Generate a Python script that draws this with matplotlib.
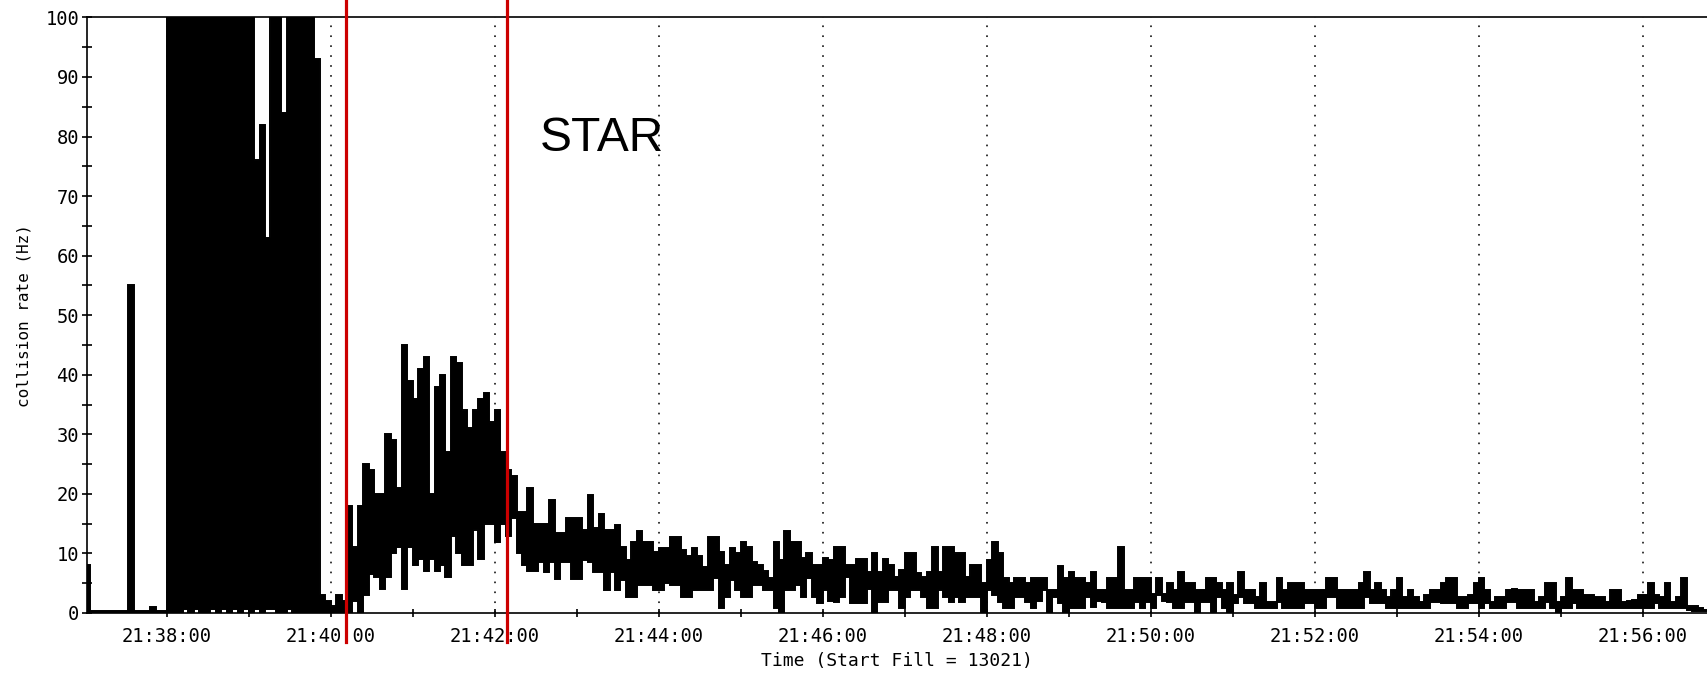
import numpy as np
import matplotlib
matplotlib.use("Agg")
import matplotlib.pyplot as plt
from matplotlib.ticker import FixedLocator, FuncFormatter, MultipleLocator

# ---------------- data ----------------
start_clock = "21:37:00"      # time of the first bin edge
bin_seconds = 4               # width of one sample bin

# upper envelope of the collision-rate trace (Hz), one row per minute
rate_hi = [
    8, .4, .4, .4, .4, .4, .4, .4, 55, .4, .4, .4, 1, .4, .4,                       # 21:37
    130, 130, 130, 130, 130, 130, 130, 130, 130, 130, 130, 130, 130, 130, 130,      # 21:38
    130, 76, 82, 63, 130, 130, 84, 130, 130, 130, 130, 130, 93, 3, 2,               # 21:39
    1.1, 3, 2, 18, 11, 18, 25, 24, 20, 20, 30, 29, 21, 45, 39,                      # 21:40
    36, 41, 43, 20, 38, 40, 27, 43, 42, 34, 31, 34, 36, 37, 32,                     # 21:41
    34, 27, 24, 23, 17, 17, 21, 15, 15, 15, 19, 13.4, 13.4, 15.9, 15.9,             # 21:42
    15.9, 13.9, 19.8, 14.2, 16.7, 13.9, 13.9, 14.8, 11.1, 8.9, 12, 13.7, 12, 12, 10.3,  # 21:43
    10.9, 10.9, 12.7, 12.7, 10.6, 9.5, 10.9, 9.5, 7.8, 12.7, 12.7, 10.3, 8.1, 10.9, 10, # 21:44
    12, 11, 8.5, 8.1, 7, 5.8, 12, 8.9, 13.8, 12, 12, 9.2, 10, 8.1, 8.1,             # 21:45
    9.2, 8.9, 11, 11, 8.1, 8.1, 9, 9, 6.9, 10, 6.9, 9, 8.1, 6.1, 7.2,               # 21:46
    10, 10, 6.7, 6, 6.9, 11, 6.9, 11, 11, 10, 10, 6.1, 8.1, 8.1, 5,                 # 21:47
    8.9, 12, 10, 5.8, 5, 5.8, 5.8, 5, 5.8, 5.8, 5.8, 3.9, 3.9, 7.9, 5.8,            # 21:48
    6.9, 5.8, 5.8, 5, 6.9, 3.9, 3.9, 5.8, 5.8, 11, 3.9, 3.9, 5.8, 5.8, 5.8,         # 21:49
    3.2, 5.8, 3.2, 5, 3.9, 6.9, 5, 5, 3.9, 3.9, 5.8, 5.8, 5, 3.9, 5,                # 21:50
    3, 6.9, 3.9, 3.9, 2.7, 5, 1.9, 1.9, 5.9, 3.9, 5, 5, 5, 3.9, 3.9,                # 21:51
    3.9, 3.9, 5.9, 5.9, 3.9, 3.9, 3.9, 3.9, 5, 6.9, 3.9, 5, 3.9, 2.7, 3.9,          # 21:52
    5.9, 2.7, 3.9, 2.7, 1.9, 3, 3.9, 3.9, 5, 5.9, 5.9, 2.7, 2.7, 3, 5,              # 21:53
    5.9, 3.9, 1.9, 2.7, 2.7, 3.9, 4.1, 3.9, 3.9, 3.9, 1.9, 2.7, 5, 5, 1.9,          # 21:54
    2.7, 5.9, 3.9, 3.9, 3, 3, 2.7, 2.7, 1.9, 3.9, 3.9, 1.9, 2, 2.2, 3,              # 21:55
    3, 5, 3, 2.7, 5, 1.9, 2.7, 5.9, 1.1, 1.1, 0.8, 0.5,                             # 21:56
]

# lower envelope of the collision-rate trace (Hz)
rate_lo = [
    0, 0, 0, 0, 0, 0, 0, 0, 0, 0, 0, 0, 0, 0, 0,
    0, 0, 0, .6, 0, .6, 0, 0, .6, 0, .6, 0, .6, 0, .6,
    0, .6, 0, .6, .6, 0, 0, .6, 0, 0, 0, 0, 0, 0, 0,
    0, 0, 0, 0, 2, 0, 3, 6.5, 6, 4, 6, 10, 11, 4, 11,
    8, 9, 7, 9, 7, 8, 6, 13, 10, 8, 8, 14, 9, 15, 15,
    12, 15, 13, 16, 10, 8, 7, 7, 8.6, 6.8, 8.6, 5.7, 8.6, 8.6, 5.7,
    5.7, 8.9, 8.6, 6.9, 6.9, 3.9, 6.9, 3.9, 5.5, 2.7, 2.7, 4.7, 4.7, 4.7, 3.9,
    3.9, 5, 4.7, 4.7, 2.7, 2.7, 3.9, 3.9, 3.9, 3.9, 5.8, 0.8, 2.7, 5.5, 3.9,
    2.7, 2.7, 4.7, 4.7, 3.9, 3.9, 0.8, 0, 3.9, 3.9, 4.7, 2.7, 5.8, 2.7, 1.6,
    3.9, 2, 1.9, 2.7, 6, 1.6, 1.6, 1.6, 4, 0, 1.9, 1.9, 3.9, 3.9, 0.8,
    2.7, 3.9, 3.9, 2.7, 0.8, 0.8, 3.9, 2.7, 1.9, 2.7, 1.9, 2.7, 2.7, 2.7, 0,
    3.9, 3, 1.9, 0.8, 0.8, 2.7, 2.7, 1.9, 0.8, 2, 3.9, 0, 2.7, 1.6, 0,
    0.8, 0.8, 0.8, 2.7, 1, 2, 1.9, 0.8, 0.8, 0.8, 0.8, 0.8, 1.9, 0.8, 1.9,
    0.8, 3, 2, 1.9, 0.8, 0.8, 1.9, 1.9, 0, 1.9, 1.9, 0, 2.7, 0.8, 0,
    1.6, 2.7, 1.6, 1.6, 0.8, 0.8, 0.8, 0.8, 1.9, 0.8, 0.8, 0.8, 0.8, 1.6, 1.6,
    0.8, 0.8, 2.7, 2.7, 0.8, 0.8, 0.8, 0.8, 0.8, 2.7, 1.6, 1.6, 1.6, 0.8, 0.8,
    0.8, 0.8, 0.8, 0.8, 0.8, 0.8, 1.9, 1.9, 1.6, 1.6, 1.6, 0.8, 0.8, 1.6, 1.6,
    0.8, 1.6, 0.8, 0.8, 0.8, 1.9, 1.9, 0.8, 0.8, 0.8, 0.8, 0.8, 1.9, 0.8, 0,
    0.8, 0.8, 1.6, 0.8, 0.8, 0.8, 0.8, 0.8, 0.8, 0.8, 0.8, 0.8, 0.8, 0.8, 0.8,
    0.8, 0.8, 1.6, 0.8, 0.8, 0.8, 0.8, 0.8, 0.5, 0.3, 0.3, 0.3,
]

red_marks = ["21:40:11", "21:42:09"]     # STAR markers
x_range = ["21:37:01.8", "21:56:46.8"]
annotation = "STAR"
x_label = "Time (Start Fill = 13021)"
y_label = "collision rate (Hz)"


def clock_to_s(txt):
    h, m, s = txt.split(":")
    return int(h) * 3600 + int(m) * 60 + float(s)


T0 = clock_to_s(start_clock)


def rel(txt):
    return clock_to_s(txt) - T0


def fmt_clock(x, pos=None):
    t = int(round(T0 + x))
    return "%02d:%02d:%02d" % (t // 3600, (t % 3600) // 60, t % 60)


# ---------------- figure ----------------
W, H = 1707, 673
fig = plt.figure(figsize=(W / 100, H / 100), dpi=100)
ax_l, ax_b, ax_t = 87, 613, 17.4
ax = fig.add_axes([ax_l / W, 1 - ax_b / H, 1 - ax_l / W, (ax_b - ax_t) / H])

mono = "DejaVu Sans Mono"

edges = np.arange(len(rate_hi) + 1) * bin_seconds
ax.stairs(rate_hi, edges, baseline=rate_lo, fill=True, color="black",
          lw=0, zorder=2)
ax.stairs(rate_hi, edges, baseline=None, color="black", lw=1.4, zorder=3)
ax.stairs(rate_lo, edges, baseline=None, color="black", lw=1.4, zorder=3)

xmin, xmax = rel(x_range[0]), rel(x_range[1])
ax.set_xlim(xmin, xmax)
ax.set_ylim(0, 100)

major = np.arange(60, xmax, 120)
minor = np.arange(120, xmax, 120)
ax.xaxis.set_major_locator(FixedLocator(major))
ax.xaxis.set_minor_locator(FixedLocator(minor))
ax.xaxis.set_major_formatter(FuncFormatter(fmt_clock))
ax.yaxis.set_major_locator(MultipleLocator(10))
ax.yaxis.set_minor_locator(MultipleLocator(5))

# dotted vertical grid at labelled times
for xv in major:
    ax.axvline(xv, color="black", lw=1.1, linestyle=(0, (1.1, 5.4)), zorder=1)

ax.tick_params(axis="x", which="both", direction="inout", length=6, width=1.2,
               pad=7, labelsize=13.5)
ax.tick_params(axis="y", which="both", direction="inout", length=7.5, width=1.2,
               pad=2, labelsize=13.5)
for lab in ax.get_xticklabels() + ax.get_yticklabels():
    lab.set_fontfamily(mono)

for side in ("left", "bottom", "top"):
    ax.spines[side].set_linewidth(1.2)
    ax.spines[side].set_color("black")
ax.spines["right"].set_visible(False)

ax.set_xlabel(x_label, fontsize=13, family=mono)
ax.xaxis.set_label_coords(0.5, (ax_b - 661) / (ax_b - ax_t))
ax.xaxis.label.set_va("center")
ax.set_ylabel(y_label, fontsize=11.5, family=mono)
ax.yaxis.set_label_coords((24 - ax_l) / (W - ax_l), 0.5)
ax.yaxis.label.set_va("center")

# red STAR markers
for m in red_marks:
    ax.axvline(rel(m), ymin=(ax_b - 642) / (ax_b - ax_t), ymax=ax_b / (ax_b - ax_t),
               color="#cc0000", lw=2.3, clip_on=False, zorder=5)

ax.text(rel("21:42:33"), 77.6, annotation, fontsize=34.5, family="Liberation Sans",
        ha="left", va="baseline", color="black")

fig.savefig("out.png", dpi=100, facecolor="white")
